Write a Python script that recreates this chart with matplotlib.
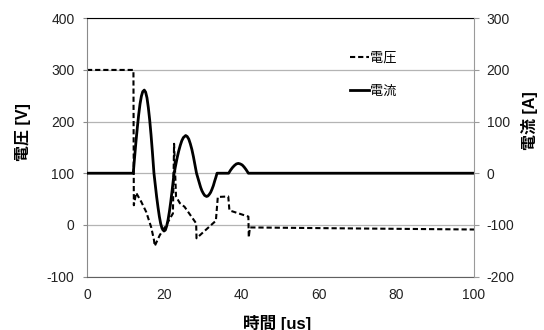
import numpy as np
import matplotlib
matplotlib.use("Agg")
import matplotlib.pyplot as plt

plt.rcParams['font.family'] = ['Liberation Sans', 'Noto Sans CJK JP', 'DejaVu Sans']
plt.rcParams['axes.unicode_minus'] = False

# voltage (dashed, left axis) [us], [V]
t_volt = [0, 12.0, 12.1, 12.7, 14.0, 15.3, 16.6, 17.3, 17.5, 18.8, 20.5, 21.8, 22.2,
          22.5, 23.0, 23.3, 24.0, 25.2, 28.2, 28.3, 33.3, 33.8, 36.5, 36.8, 41.7,
          41.8, 42.1, 70, 100]
volt = [300, 300, 38, 62, 45, 25, -5, -29, -41, -20, 0, 17, 22,
        157, 55, 51, 42, 35, 3, -26, 8, 54, 55, 28, 16,
        -24, -5, -7, -9]

# current (solid, right axis) [us], [A]
t_curr = [0, 11.95, 12.3, 12.65, 13.0, 13.35, 13.7, 14.05, 14.4, 14.8,
          15.15, 15.5, 15.85, 16.2, 16.55, 16.9, 17.3,
          17.65, 18.0, 18.35, 18.7, 19.05, 19.4, 19.9,
          20.25, 20.6, 20.95, 21.3, 21.65, 22.0, 22.5,
          22.9, 23.3, 23.7, 24.1, 24.5, 24.9, 25.5,
          25.9, 26.3, 26.7, 27.1, 27.5, 27.9, 28.3,
          28.65, 29.0, 29.35, 29.7, 30.05, 30.4, 30.9,
          31.25, 31.6, 31.95, 32.3, 32.65, 33.0, 33.3, 33.6,
          36.6, 37.1, 37.6, 38.1, 38.6, 39.1, 39.6, 40.1, 40.6, 41.1, 41.7, 100]
curr = [0, 0, 31, 61, 88, 113, 134, 149, 158, 161,
        157, 146, 127, 103, 74, 41, 0,
        -23, -46, -66, -84, -98, -107, -112,
        -110, -102, -90, -74, -55, -33, 0,
        15, 30, 43, 54, 63, 69, 73,
        71, 66, 57, 46, 32, 16, 0,
        -9, -18, -27, -34, -39, -43, -45,
        -44, -41, -37, -31, -24, -15, -8, 0,
        0, 6, 11, 15, 18, 19, 18, 16, 12, 7, 0, 0]

xticks = [0, 20, 40, 60, 80, 100]
vticks = [-100, 0, 100, 200, 300, 400]
aticks = [-200, -100, 0, 100, 200, 300]

fig = plt.figure(figsize=(5.44, 3.30), dpi=100)
ax = fig.add_axes([87/544, 53.5/330, 387/544, 258.2/330])
ax2 = ax.twinx()

l1, = ax.plot(t_volt, volt, color='black', lw=1.5, ls=(0, (2.5, 1.4)), label='電圧')
l2, = ax2.plot(t_curr, curr, color='black', lw=2.0, label='電流')

ax.set_xlim(0, 100)
ax.set_ylim(-100, 400)
ax2.set_ylim(-200, 300)
ax.set_xticks(xticks)
ax.set_yticks(vticks)
ax2.set_yticks(aticks)

ax.yaxis.grid(True, color='#b4b4b4', lw=0.9)
ax.set_axisbelow(True)

ax.spines['top'].set_color('black')
ax.spines['left'].set_color('#8a8a8a')
ax.spines['bottom'].set_color('#606060')
ax.spines['right'].set_visible(False)
for s in ['top', 'left', 'bottom']:
    ax2.spines[s].set_visible(False)
ax2.spines['right'].set_color('#9a9a9a')

ax.tick_params(axis='x', length=0, pad=8, labelsize=10, labelcolor='#222222')
ax.tick_params(axis='y', length=3, color='#8a8a8a', pad=6, labelsize=10, labelcolor='#222222')
ax2.tick_params(axis='y', length=3.5, color='#9a9a9a', pad=5.5, labelsize=10, labelcolor='#222222')

fig.text(23/544, 1-132/330, '電圧 [V]', rotation=90, ha='center', va='center',
         fontsize=11.5, fontweight='bold')
fig.text(530/544, 1-121/330, '電流 [A]', rotation=90, ha='center', va='center',
         fontsize=11.5, fontweight='bold')
fig.text(277/544, 1-323/330, '時間 [us]', ha='center', va='center',
         fontsize=12, fontweight='bold')

ax2.legend(handles=[l1, l2], loc='upper left', bbox_to_anchor=(343/544, 1-46/330),
           bbox_transform=fig.transFigure, frameon=False, fontsize=9.5,
           borderpad=0, handlelength=1.5, handletextpad=0.05, labelspacing=1.55)

plt.savefig("out.png", dpi=100)
plt.close()
